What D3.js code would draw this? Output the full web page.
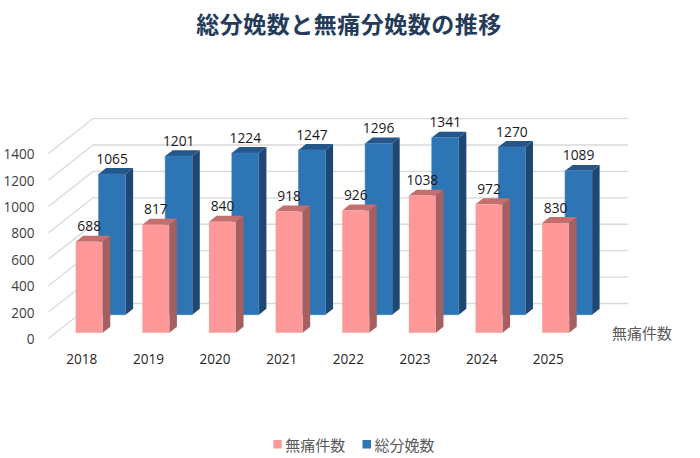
<!DOCTYPE html>
<html><head><meta charset="utf-8">
<script src="https://cdn.jsdelivr.net/npm/d3@7/dist/d3.min.js"></script>
<style>
html,body{margin:0;padding:0;background:#fff;}
svg{display:block;}
</style>
</head><body>
<svg id="chart" width="700" height="458"></svg>
<script>
const title = "総分娩数と無痛分娩数の推移";
const years = ["2018","2019","2020","2021","2022","2023","2024","2025"];
const painless = [688, 817, 840, 918, 926, 1038, 972, 830];
const total = [1065, 1201, 1224, 1247, 1296, 1341, 1270, 1089];
const seriesNames = ["無痛件数", "総分娩数"];
const yTicks = [0, 200, 400, 600, 800, 1000, 1200, 1400];

const svg = d3.select("#chart");
const numFont = "'Open Sans', 'Liberation Sans', sans-serif";
const jpFont = "'Noto Sans CJK JP', 'Noto Sans', sans-serif";

// front plane scales
const x = d3.scaleBand().domain(years).range([48.5, 581.6]).paddingInner(0).paddingOuter(0);
const y = d3.scaleLinear().domain([0, 1400]).range([338.5, 153.6]);
// oblique depth projection (z from 0 front to 1 back wall)
const KX = 44.5, KY = 35;
const P = (px, py, z) => [px + z * KX, py - z * KY];

const series = [
  {name: seriesNames[1], values: total, z0: 0.68, z1: 0.85,
   front: "#2E75B6", top: "#24568A", side: "#1E4772", stroke: "#3A80C0"},
  {name: seriesNames[0], values: painless, z0: 0.166, z1: 0.336,
   front: "#FF9999", top: "#C56E6E", side: "#A45F5F", stroke: "none"}
];
const BW = 27;

// title
svg.append("text").attr("x", 349).attr("y", 23).attr("text-anchor", "middle")
  .attr("dominant-baseline", "central").attr("font-family", jpFont)
  .attr("font-weight", "bold").attr("font-size", 23).attr("fill", "#243B5A")
  .attr("letter-spacing", 0.5).text(title);

// gridlines (side wall + back wall)
const [xL, xR] = x.range();
const grid = svg.append("g");
yTicks.forEach(v => {
  const a = P(xL, y(v), 0), b = P(xL, y(v), 1), c = P(xR + 2, y(v), 1);
  grid.append("polyline").attr("points", [a, b, c].map(p => p.join(",")).join(" "))
    .attr("fill", "none").attr("stroke", "#D9D9D9").attr("stroke-width", 1.3);
});

// y axis labels
svg.append("g").selectAll("text").data(yTicks).join("text")
  .attr("x", 34.5).attr("y", d => y(d)).attr("text-anchor", "end")
  .attr("dominant-baseline", "central").attr("font-family", numFont)
  .attr("font-size", 13.6).attr("fill", "#404040").text(d => d);

// bars
const barsG = svg.append("g");
function drawBar(g, s, cat, v) {
  const cx = x(cat) + x.bandwidth() / 2;
  const l = cx - BW / 2, r = cx + BW / 2;
  const yb = y(0), yt = y(v);
  const pts = arr => arr.map(p => p.join(",")).join(" ");
  // side
  g.append("polygon").attr("points", pts([P(r, yb, s.z0), P(r, yb, s.z1), P(r, yt, s.z1), P(r, yt, s.z0)]))
    .attr("fill", s.side);
  // top
  g.append("polygon").attr("points", pts([P(l, yt, s.z0), P(r, yt, s.z0), P(r, yt, s.z1), P(l, yt, s.z1)]))
    .attr("fill", s.top);
  // front
  g.append("polygon").attr("points", pts([P(l, yb, s.z0), P(r, yb, s.z0), P(r, yt, s.z0), P(l, yt, s.z0)]))
    .attr("fill", s.front).attr("stroke", s.stroke).attr("stroke-width", 0.6);
}
series.forEach(s => {
  const g = barsG.append("g");
  years.forEach((yr, i) => drawBar(g, s, yr, s.values[i]));
});

// data labels
series.forEach(s => {
  svg.append("g").selectAll("text").data(years).join("text")
    .attr("x", d => P(x(d) + x.bandwidth() / 2, 0, s.z0)[0])
    .attr("y", (d, i) => P(0, y(s.values[i]), s.z1)[1] - 10)
    .attr("text-anchor", "middle").attr("dominant-baseline", "central")
    .attr("font-family", numFont).attr("font-size", 13.8).attr("fill", "#1A1A1A")
    .text((d, i) => s.values[i]);
});

// category labels
svg.append("g").selectAll("text").data(years).join("text")
  .attr("x", d => x(d) + x.bandwidth() / 2).attr("y", 358.3)
  .attr("text-anchor", "middle").attr("dominant-baseline", "central")
  .attr("font-family", numFont).attr("font-size", 13.6).attr("fill", "#262626")
  .text(d => d);

// depth (series) axis label
const dl = P(xR + 23, y(0), series[1].z0);
svg.append("text").attr("x", dl[0]).attr("y", dl[1])
  .attr("dominant-baseline", "central").attr("font-family", jpFont)
  .attr("font-size", 15).attr("fill", "#595959").text(seriesNames[0]);

// legend
const legendItems = [
  {name: seriesNames[0], color: "#FF9999", x: 273.3},
  {name: seriesNames[1], color: "#2E75B6", x: 362.5}
];
const lg = svg.append("g");
legendItems.forEach(it => {
  lg.append("rect").attr("x", it.x).attr("y", 440).attr("width", 8.5).attr("height", 8.5).attr("fill", it.color);
  lg.append("text").attr("x", it.x + 12).attr("y", 444.5).attr("dominant-baseline", "central")
    .attr("font-family", jpFont).attr("font-size", 15).attr("fill", "#595959").text(it.name);
});
</script>
</body></html>
